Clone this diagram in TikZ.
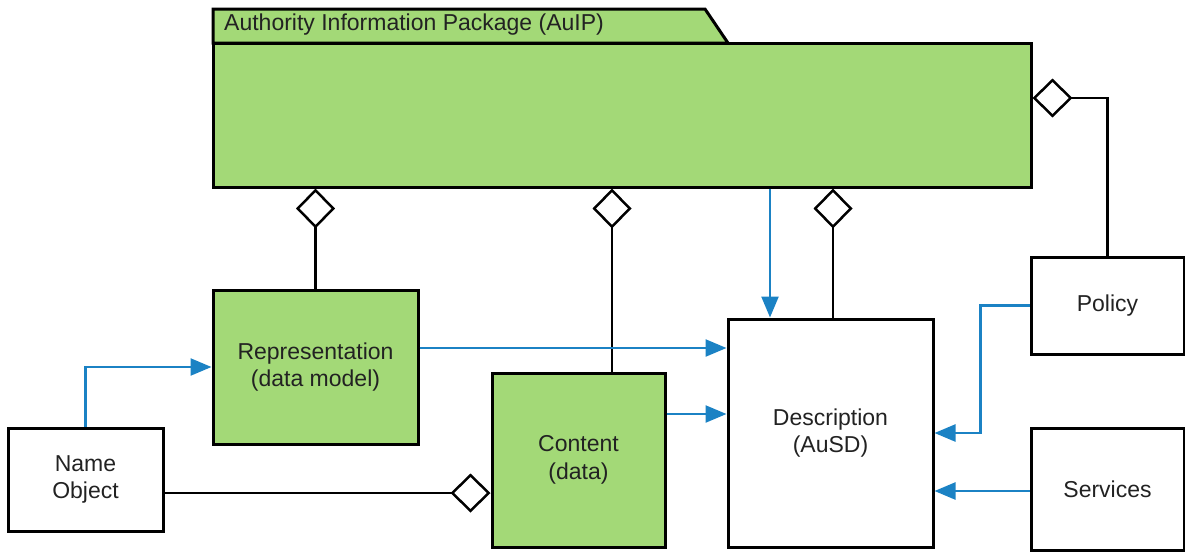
\documentclass[tikz,border=0pt]{standalone}
\usepackage{fontspec}
\setmainfont{Liberation Sans}
\usepackage{tikz}
\usetikzlibrary{arrows.meta}
\definecolor{pkggreen}{RGB}{163,217,119}
\definecolor{flowblue}{RGB}{27,130,196}
\definecolor{txt}{RGB}{34,34,34}
\begin{document}
\begin{tikzpicture}[x=1pt,y=-1pt,
  box/.style={draw, line width=3pt, inner sep=0pt, align=center, text=txt,
    font=\fontsize{23}{27.5}\selectfont},
  greenbox/.style={box, fill=pkggreen},
  flow/.style={draw=flowblue, line width=2.4pt, -{Triangle[length=21pt,width=17pt]}},
  agg/.style={line width=2.5pt, -{Diamond[length=40pt,width=39pt,fill=white]}}]
\useasboundingbox (0,0) rectangle (1185,552);
% package tab and body
\draw [fill=pkggreen, line width=3pt] (213,43) -- (213,9) -- (705,9) -- (728,43) -- cycle;
\node [anchor=west, text=txt, inner sep=0pt, font=\fontsize{23}{27.5}\selectfont] (title) at (224,25) {Authority Information Package (AuIP)};
\node [greenbox, minimum width=818pt, minimum height=144pt] (pkg) at (622,115) {};
% parts
\node [greenbox, minimum width=205pt, minimum height=154pt] (rep) at (315.5,367) {Representation\\(data model)};
\node [greenbox, minimum width=173pt, minimum height=174pt] (content) at (578.5,460) {Content\\(data)};
\node [box, minimum width=205pt, minimum height=228pt] (desc) at (830.5,433) {Description\\(AuSD)};
\node [box, minimum width=155pt, minimum height=103pt] (name) at (85.5,479.5) {Name\\Object};
\node [box, minimum width=153pt, minimum height=97pt] (policy) at (1107.5,305.5) {Policy};
\node [box, minimum width=153pt, minimum height=122pt] (services) at (1107.5,489) {Services};
% helper rows and columns
\coordinate (rowrep) at (0,348);
\coordinate (rowcon) at (0,414);
\coordinate (rowname) at (0,493);
\coordinate (rowpol) at (0,98);
\coordinate (rowserv) at (0,491);
\coordinate (colcon) at (612,0);
\coordinate (coldesc) at (770,0);
% aggregations
\draw [agg] (rep.north) -- (rep.north |- pkg.south);
\draw [agg] (content.north -| colcon) -- (pkg.south -| colcon);
\draw [agg] (desc.north -| 833,0) -- (pkg.south -| 833,0);
\draw [agg] (policy.north) |- (pkg.east |- rowpol);
\draw [agg] (name.east |- rowname) -- (content.west |- rowname);
% flows
\draw [flow] (pkg.south -| coldesc) -- (desc.north -| coldesc);
\draw [flow] (rep.east |- rowrep) -- (desc.west |- rowrep);
\draw [flow] (content.east |- rowcon) -- (desc.west |- rowcon);
\draw [flow] (name.north) |- (rep.west);
\draw [flow] (policy.west) -- ++(-49,0) |- (desc.east);
\draw [flow] (services.west |- rowserv) -- (desc.east |- rowserv);
\end{tikzpicture}
\end{document}
